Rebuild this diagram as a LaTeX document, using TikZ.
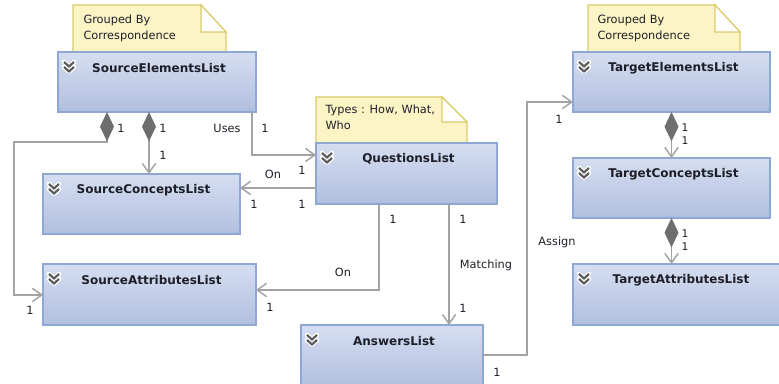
\documentclass[tikz,border=0pt]{standalone}
\usepackage{fontspec}
\setmainfont{DejaVu Sans}
\usetikzlibrary{arrows.meta}

\definecolor{boxtop}{HTML}{D5DEF1}
\definecolor{boxbot}{HTML}{B1BFDF}
\definecolor{boxline}{HTML}{8FA8D3}
\definecolor{notefill}{HTML}{FBF5C5}
\definecolor{noteline}{HTML}{DCCB6A}
\definecolor{linegray}{HTML}{A3A3A3}
\definecolor{diagray}{HTML}{6E6E6E}
\definecolor{chevgray}{HTML}{5A5A5A}
\definecolor{inkdark}{HTML}{1E1E28}

\tikzset{every picture/.style={line width=0.75pt}}
\tikzset{
  classbox/.style 2 args={draw=boxline, line width=0.9pt, top color=boxtop, bottom color=boxbot,
    anchor=north west, inner sep=0pt, outer sep=0pt, minimum width=#1*0.75pt, minimum height=#2*0.75pt},
  title/.style={font=\fontsize{9}{11}\selectfont\bfseries, text=inkdark, inner sep=0pt},
  notebox/.style={draw=noteline, fill=notefill, line width=0.9pt},
  fold/.style={draw=noteline, fill=white, line width=0.9pt},
  notetext/.style={anchor=north west, align=left, font=\fontsize{8.5}{12}\selectfont, text=inkdark, inner sep=0pt},
  mult/.style={font=\fontsize{8.5}{10}\selectfont, text=inkdark, inner sep=0pt},
  conn/.style={draw=linegray, line width=1.1pt, -{Straight Barb[length=7pt,width=10pt]}},
  owns/.style={conn, {Diamond[length=22pt,width=10.5pt,color=diagray]}-{Straight Barb[length=7pt,width=10pt]}},
  chevrons/.pic={
    \foreach \t in {0,5}
      \draw[white, line width=3.4pt, line cap=round, line join=round] (-5,\t+4.5) -- (0,\t) -- (5,\t+4.5);
    \foreach \t in {0,5}
      \draw[chevgray, line width=1.6pt] (-5,\t+4.5) -- (0,\t) -- (5,\t+4.5);
  }
}

\begin{document}
\begin{tikzpicture}[x=0.75pt,y=0.75pt,yscale=-1,xscale=1]
\clip (0,0) rectangle (779,384);

%Notes
\draw[notebox] (73,5) -- (201,5) -- (226,32) -- (226,52) -- (73,52) -- cycle ;
\draw[fold] (201,5) -- (201,32) -- (226,32) -- cycle ;
\draw[notebox] (316,97) -- (442,97) -- (467,122) -- (467,143) -- (316,143) -- cycle ;
\draw[fold] (442,97) -- (442,122) -- (467,122) -- cycle ;
\draw[notebox] (588,5) -- (715,5) -- (740,32) -- (740,52) -- (588,52) -- cycle ;
\draw[fold] (715,5) -- (715,32) -- (740,32) -- cycle ;

% Text Node
\node[notetext] (n-sel) at (83,14.5) {Grouped By\\Correspondence};
% Text Node
\node[notetext] (n-qst) at (325,104.5) {Types : How, What,\\Who};
% Text Node
\node[notetext] (n-tel) at (597,14.5) {Grouped By\\Correspondence};

%Classes
\node[classbox={198}{60}] (sel) at (58,52) {};
\node[classbox={197}{60}] (scl) at (43,174) {};
\node[classbox={213}{61}] (sal) at (43,264) {};
\node[classbox={181}{61}] (qst) at (316,143) {};
\node[classbox={182}{62}] (ans) at (301,325) {};
\node[classbox={197}{60}] (tel) at (573,52) {};
\node[classbox={197}{60}] (tcl) at (573,158) {};
\node[classbox={212}{61}] (tal) at (573,264) {};

\foreach \b/\name in {sel/SourceElementsList, scl/SourceConceptsList, sal/SourceAttributesList,
    qst/QuestionsList, ans/AnswersList, tel/TargetElementsList, tcl/TargetConceptsList, tal/TargetAttributesList}{
  \node[title] (\b-t) at ([xshift=1.5pt,yshift=12pt]\b.north) {\name};
  \pic at ([xshift=8.25pt,yshift=14.6pt]\b.north west) {chevrons};
}

%Bends
\coordinate (b1) at (14,142);
\coordinate (b2) at (14,295);
\coordinate (d1) at (107,0);
\coordinate (d2) at (149,0);
\coordinate (b3) at (252,155);
\coordinate (on1) at (0,188);
\coordinate (b4) at (379,290);
\coordinate (m1) at (449,0);
\coordinate (b5) at (527,355);
\coordinate (b6) at (527,102);

%Connectors
\draw[owns] (sel.south -| d1) |- (b1) -- (b2) -- (sal.west |- b2);
\draw[owns] (sel.south -| d2) -- (scl.north -| d2);
\draw[conn] (sel.south -| b3) -- (b3) -- (qst.west |- b3);
\draw[conn] (qst.west |- on1) -- (scl.east |- on1);
\draw[conn] (qst.south -| b4) -- (b4) -- (sal.east |- b4);
\draw[conn] (qst.south -| m1) -- (ans.north -| m1);
\draw[conn] (ans.east |- b5) -- (b5) -- (b6) -- (tel.west |- b6);
\draw[owns] (tel.south) -- (tcl.north);
\draw[owns] (tcl.south) -- (tal.north -| tcl.south);

% Text Node
\node[mult] (l1) at (121,128) {1};
\node[mult] (l2) at (163,128) {1};
\node[mult] (l3) at (163,155) {1};
\node[mult] (l4) at (30,310) {1};
\node[mult] (l5) at (227,128) {Uses};
\node[mult] (l6) at (265,128) {1};
\node[mult] (l7) at (302,170) {1};
\node[mult] (l8) at (273,174) {On};
\node[mult] (l9) at (254,204) {1};
\node[mult] (l10) at (302,204) {1};
\node[mult] (l11) at (393,219) {1};
\node[mult] (l12) at (463,219) {1};
\node[mult] (l13) at (343,272) {On};
\node[mult] (l14) at (270,307) {1};
\node[mult] (l15) at (486,265) {Matching};
\node[mult] (l16) at (463,308) {1};
\node[mult] (l17) at (497,372) {1};
\node[mult] (l18) at (557,242) {Assign};
\node[mult] (l19) at (559,119) {1};
\node[mult,font=\fontsize{8}{9}\selectfont] (l20) at (685,127.5) {1};
\node[mult,font=\fontsize{8}{9}\selectfont] (l21) at (685,141) {1};
\node[mult,font=\fontsize{8}{9}\selectfont] (l22) at (685,233.5) {1};
\node[mult,font=\fontsize{8}{9}\selectfont] (l23) at (685,247) {1};

\end{tikzpicture}
\end{document}
